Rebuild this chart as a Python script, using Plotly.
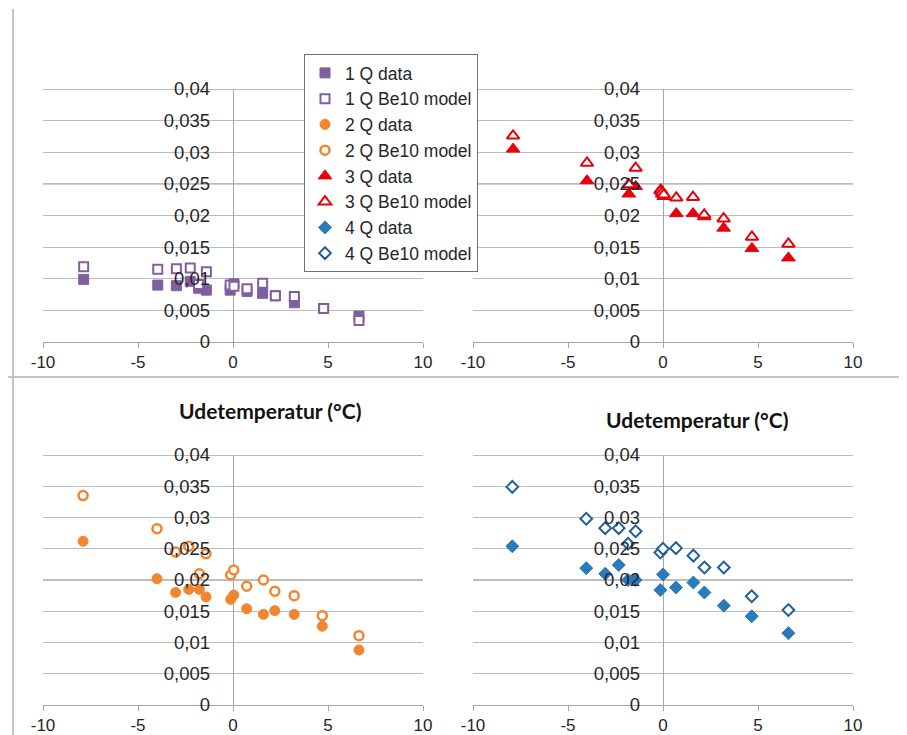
import plotly.graph_objects as go

# ---------------- data ----------------
q1_x = [-7.86, -3.96, -2.98, -2.25, -1.81, -1.40, -0.15, 0.05, 0.74, 1.56, 2.23, 3.23, 4.77, 6.63]
q1_data = [0.0099, 0.0090, 0.0089, 0.0096, 0.0085, 0.0082, 0.0082, 0.0092, 0.0080, 0.0077, 0.0073, 0.0062, 0.0053, 0.0041]
q1_model = [0.0119, 0.0115, 0.0116, 0.0117, 0.0091, 0.0111, 0.0090, 0.0088, 0.0084, 0.0093, 0.0073, 0.0072, 0.0053, 0.0034]

q2_x = [-7.89, -4.0, -3.02, -2.33, -1.77, -1.42, -0.12, 0.04, 0.72, 1.6, 2.2, 3.22, 4.7, 6.63]
q2_data = [0.0262, 0.0202, 0.0180, 0.0185, 0.0185, 0.0173, 0.0169, 0.0176, 0.0154, 0.0145, 0.0151, 0.0145, 0.0126, 0.0088]
q2_model = [0.0335, 0.0282, 0.0245, 0.0254, 0.0210, 0.0242, 0.0208, 0.0216, 0.0190, 0.0200, 0.0182, 0.0175, 0.0143, 0.0111]

q3_x = [-7.89, -4.0, -1.80, -1.44, -0.12, -0.04, 0.04, 0.70, 1.58, 2.17, 3.19, 4.68, 6.6]
q3_data = [0.0305, 0.0255, 0.0234, 0.0246, 0.0241, 0.0234, 0.0230, 0.0203, 0.0203, 0.0198, 0.0180, 0.0148, 0.0133]
q3_model = [0.0326, 0.0283, 0.0249, 0.0275, 0.0239, 0.0236, 0.0233, 0.0228, 0.0229, 0.0201, 0.0195, 0.0166, 0.0155]

q4_x = [-7.93, -4.04, -3.04, -2.33, -1.84, -1.44, -0.14, 0.0, 0.68, 1.6, 2.18, 3.2, 4.67, 6.6]
q4_data = [0.0254, 0.0219, 0.0210, 0.0224, 0.0200, 0.0200, 0.0184, 0.0209, 0.0188, 0.0196, 0.0180, 0.0159, 0.0142, 0.0115]
q4_model = [0.0349, 0.0298, 0.0283, 0.0283, 0.0258, 0.0278, 0.0244, 0.0250, 0.0251, 0.0239, 0.0220, 0.0220, 0.0174, 0.0152]

series_names = ["1 Q data", "1 Q Be10 model", "2 Q data", "2 Q Be10 model",
                "3 Q data", "3 Q Be10 model", "4 Q data", "4 Q Be10 model"]

x_tickvals = [-10, -5, 0, 5, 10]
x_ticktext = ["-10", "-5", "0", "5", "10"]
y_tickvals = [0, 0.005, 0.01, 0.015, 0.02, 0.025, 0.03, 0.035, 0.04]
y_ticktext = ["0", "0,005", "0,01", "0,015", "0,02", "0,025", "0,03", "0,035", "0,04"]

# gridlines that render darker in the reference
dark_grid_top = [0.04, 0.025]
dark_grid_bottom = [0.04, 0.02]

axis_title = "Udetemperatur (°C)"

# ---------------- style ----------------
W, H = 907, 735
OFF = 8  # page body margin offset (px) – layout positions are given in window pixels
PURPLE = "#7F5FA0"
ORANGE = "#F2852F"
RED = "#E8000B"
BLUE = "#2B7BBA"
BLUE_DARK = "#1F5E98"
TXT = "#262626"
FONT = "Liberation Sans, Arial, sans-serif"


def px(v):
    return (v - OFF) / W


def py(v):
    return 1 - (v - OFF) / H


# panel pixel boxes in window coordinates: (x0, x1, ytop, ybottom)
panels = {
    1: (43, 423, 89, 342),   # top-left
    2: (473, 853, 89, 342),  # top-right
    3: (43, 423, 455, 705),  # bottom-left
    4: (473, 853, 455, 705), # bottom-right
}

fig = go.Figure()


def add(xs, ys, name, axis, symbol, color, filled, size, lw=2):
    ax = "" if axis == 1 else str(axis)
    marker = dict(symbol=symbol, size=size,
                  color=color if filled else "white",
                  line=dict(color=color, width=lw if not filled else 1))
    fig.add_trace(go.Scatter(x=xs, y=ys, mode="markers", name=name,
                             marker=marker, xaxis="x" + ax, yaxis="y" + ax))


add(q1_x, q1_data, series_names[0], 1, "square", PURPLE, True, 10)
add(q1_x, q1_model, series_names[1], 1, "square", PURPLE, False, 9)
add(q2_x, q2_data, series_names[2], 3, "circle", ORANGE, True, 10)
add(q2_x, q2_model, series_names[3], 3, "circle", ORANGE, False, 9, 2.5)
add(q3_x, q3_data, series_names[4], 2, "triangle-up", RED, True, 12)
add(q3_x, q3_model, series_names[5], 2, "triangle-up", RED, False, 11)
add(q4_x, q4_data, series_names[6], 4, "diamond", BLUE, True, 10)
add(q4_x, q4_model, series_names[7], 4, "diamond", BLUE_DARK, False, 9)

layout = dict(
    width=W, height=H,
    margin=dict(l=0, r=0, t=0, b=0, pad=0, autoexpand=False),
    paper_bgcolor="white", plot_bgcolor="white",
    separators=", ",
    font=dict(family=FONT, size=18, color=TXT),
    showlegend=True,
    legend=dict(x=px(304), y=py(54), xanchor="left", yanchor="top",
                bgcolor="white", bordercolor="#707070", borderwidth=1,
                font=dict(family=FONT, size=17.5, color=TXT),
                itemwidth=30, tracegroupgap=0),
)

shapes = []
for k, (x0, x1, yt, yb) in panels.items():
    ax = "" if k == 1 else str(k)
    xd = [px(x0), px(x1)]
    yd = [py(yb), py(yt)]
    layout["xaxis" + ax] = dict(
        domain=xd, range=[-10, 10], anchor="y" + ax, automargin=False,
        tickmode="array", tickvals=x_tickvals, ticktext=x_ticktext,
        showgrid=False, showline=True, linecolor="#A6A6A6", linewidth=1,
        ticks="outside", ticklen=5, tickcolor="#A6A6A6",
        zeroline=True, zerolinecolor="#A6A6A6", zerolinewidth=1,
        ticklabelstandoff=0,
        tickfont=dict(family=FONT, size=17, color=TXT),
    )
    layout["yaxis" + ax] = dict(
        domain=yd, range=[0, 0.04], anchor="free", automargin=False,
        position=(xd[0] + xd[1]) / 2,
        tickmode="array", tickvals=y_tickvals, ticktext=y_ticktext,
        showgrid=True, gridcolor="#BDBDBD", gridwidth=1,
        showline=False, zeroline=False, ticks="",
        ticklabelstandoff=23,
        tickfont=dict(family=FONT, size=18.5, color=TXT),
    )
    for gv in (dark_grid_top if k in (1, 2) else dark_grid_bottom):
        shapes.append(dict(type="line", xref="x" + ax + " domain", yref="y" + ax,
                           x0=0, x1=1, y0=gv, y1=gv, layer="below",
                           line=dict(color="#7C7C7C", width=1)))

layout["annotations"] = [
    dict(text="<b>" + axis_title + "</b>", xref="paper", yref="paper",
         x=px(270), y=py(410), showarrow=False, xanchor="center", yanchor="middle",
         font=dict(family="Lato, Carlito, sans-serif", size=21, color="#111111")),
    dict(text="<b>" + axis_title + "</b>", xref="paper", yref="paper",
         x=px(697), y=py(419), showarrow=False, xanchor="center", yanchor="middle",
         font=dict(family="Lato, Carlito, sans-serif", size=21, color="#111111")),
]

shapes += [
    dict(type="line", xref="paper", yref="paper", x0=px(13), x1=px(13), y0=0, y1=py(9),
         line=dict(color="#C4C4C4", width=2)),
    dict(type="line", xref="paper", yref="paper", x0=px(7), x1=1, y0=py(377), y1=py(377),
         line=dict(color="#C4C4C4", width=2)),
]
layout["shapes"] = shapes

fig.update_layout(**layout)
fig.write_html("out.html")
